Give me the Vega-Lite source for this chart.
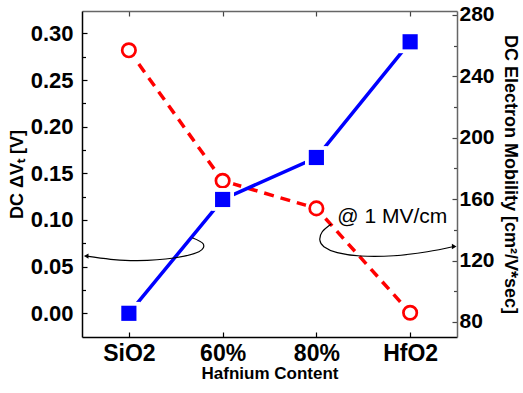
{
  "$schema": "https://vega.github.io/schema/vega-lite/v6.json",
  "width": 375,
  "height": 326,
  "autosize": "none",
  "padding": {"left": 82, "top": 11, "right": 66, "bottom": 56},
  "background": "white",
  "config": {
    "view": {"stroke": null},
    "axis": {"grid": false, "labelColor": "black", "titleColor": "black", "tickColor": "black"}
  },
  "datasets": {
    "vt": [
      {"content": "SiO2", "dvt": 0.0},
      {"content": "60%", "dvt": 0.122},
      {"content": "80%", "dvt": 0.167},
      {"content": "HfO2", "dvt": 0.291}
    ],
    "mobility": [
      {"content": "SiO2", "mobility": 257},
      {"content": "60%", "mobility": 172},
      {"content": "80%", "mobility": 154},
      {"content": "HfO2", "mobility": 86}
    ],
    "arrows": [
      {"arrow": "left", "ord": 1, "idx": 0.676, "val": 0.081},
      {"arrow": "left", "ord": 2, "idx": 0.794, "val": 0.0743},
      {"arrow": "left", "ord": 3, "idx": 0.747, "val": 0.066},
      {"arrow": "left", "ord": 4, "idx": 0.48, "val": 0.0593},
      {"arrow": "left", "ord": 5, "idx": 0.09, "val": 0.0564},
      {"arrow": "left", "ord": 6, "idx": -0.195, "val": 0.0579},
      {"arrow": "left", "ord": 7, "idx": -0.45, "val": 0.0612},
      {"arrow": "right", "ord": 1, "idx": 2.159, "val": 0.0957},
      {"arrow": "right", "ord": 2, "idx": 2.063, "val": 0.0874},
      {"arrow": "right", "ord": 3, "idx": 2.037, "val": 0.0785},
      {"arrow": "right", "ord": 4, "idx": 2.08, "val": 0.0714},
      {"arrow": "right", "ord": 5, "idx": 2.223, "val": 0.065},
      {"arrow": "right", "ord": 6, "idx": 2.471, "val": 0.0614},
      {"arrow": "right", "ord": 7, "idx": 2.827, "val": 0.0617},
      {"arrow": "right", "ord": 8, "idx": 3.183, "val": 0.066},
      {"arrow": "right", "ord": 9, "idx": 3.465, "val": 0.0716}
    ],
    "heads": [
      {"arrow": "left", "idx": -0.455, "val": 0.0613, "shape": "triangle-left"},
      {"arrow": "right", "idx": 3.47, "val": 0.0716, "shape": "triangle-right"}
    ],
    "notes": [
      {"idx": 2.223, "val": 0.0965, "note": "@ 1 MV/cm"}
    ]
  },
  "layer": [
    {
      "data": {"name": "mobility"},
      "encoding": {
        "x": {
          "field": "content", "type": "nominal", "sort": ["SiO2", "60%", "80%", "HfO2"],
          "scale": {"type": "point", "padding": 0.5},
          "axis": {
            "orient": "top", "labels": false, "title": null,
            "tickSize": -5, "tickWidth": 1.2, "tickColor": "#444",
            "domainColor": "#666", "domainWidth": 1.5
          }
        },
        "y": {
          "field": "mobility", "type": "quantitative",
          "scale": {"domain": [70.2, 282.6], "nice": false, "zero": false},
          "axis": {
            "orient": "right",
            "values": [80, 100, 120, 140, 160, 180, 200, 220, 240, 260, 280],
            "labelExpr": "datum.value % 40 == 0 ? datum.label : ''",
            "labelOverlap": false, "labelFlush": false,
            "labelFont": "Liberation Sans Narrow, Liberation Sans", "labelFontSize": 21, "labelFontWeight": "bold",
            "labelPadding": 7,
            "tickSize": {"condition": {"test": "datum.value % 40 == 0", "value": -5}, "value": -3.5},
            "tickWidth": 1.2, "tickColor": "#444",
            "domainColor": "#666", "domainWidth": 1.5,
            "title": "DC Electron Mobility [cm²/V*sec]",
            "titleFont": "Liberation Sans", "titleFontSize": 18, "titleFontWeight": "bold",
            "titlePadding": 6
          }
        }
      },
      "layer": [
        {"mark": {"type": "line", "color": "#ff0000", "strokeWidth": 3.5, "strokeDash": [10, 7]}},
        {"mark": {"type": "point", "shape": "circle", "filled": true, "color": "white", "opacity": 1, "size": 480}},
        {"mark": {"type": "point", "shape": "circle", "fill": "white", "fillOpacity": 1, "stroke": "#ff0000", "strokeWidth": 2.7, "opacity": 1, "size": 180}}
      ]
    },
    {
      "data": {"name": "vt"},
      "encoding": {
        "x": {
          "field": "content", "type": "nominal", "sort": ["SiO2", "60%", "80%", "HfO2"],
          "scale": {"type": "point", "padding": 0.5},
          "axis": {
            "orient": "bottom", "labelAngle": 0,
            "labelFont": "Liberation Sans", "labelFontSize": 23, "labelFontWeight": "bold",
            "labelPadding": 10,
            "tickSize": -5, "tickWidth": 1.2,
            "domainColor": "black", "domainWidth": 1.5,
            "title": "Hafnium Content",
            "titleFont": "Liberation Sans", "titleFontSize": 17, "titleFontWeight": "bold",
            "titlePadding": 0
          }
        },
        "y": {
          "field": "dvt", "type": "quantitative",
          "scale": {"domain": [-0.0254, 0.324], "nice": false, "zero": false},
          "axis": {
            "orient": "left",
            "values": [0, 0.025, 0.05, 0.075, 0.1, 0.125, 0.15, 0.175, 0.2, 0.225, 0.25, 0.275, 0.3],
            "labelExpr": "round(datum.value * 1000) % 50 == 0 ? format(datum.value, '.2f') : ''",
            "labelOverlap": false, "labelFlush": false,
            "labelFont": "Liberation Sans", "labelFontSize": 22, "labelFontWeight": "bold",
            "labelPadding": 14,
            "tickSize": {"condition": {"test": "round(datum.value * 1000) % 50 == 0", "value": -5}, "value": -3.5},
            "tickWidth": 1.2,
            "domainColor": "black", "domainWidth": 1.5,
            "title": "DC  ΔVₜ [V]",
            "titleFont": "Liberation Sans", "titleFontSize": 18, "titleFontWeight": "bold",
            "titlePadding": 4
          }
        }
      },
      "layer": [
        {"mark": {"type": "line", "color": "#0000ff", "strokeWidth": 3.5}},
        {"mark": {"type": "point", "shape": "square", "filled": true, "color": "white", "opacity": 1, "size": 520}},
        {"mark": {"type": "point", "shape": "square", "filled": true, "color": "#0000ff", "opacity": 1, "size": 230}}
      ]
    },
    {
      "data": {"name": "arrows"},
      "mark": {"type": "line", "color": "black", "strokeWidth": 1.2, "interpolate": "cardinal"},
      "encoding": {
        "x": {"field": "idx", "type": "quantitative", "scale": {"domain": [-0.5, 3.5], "nice": false, "zero": false}, "axis": null},
        "y": {"field": "val", "type": "quantitative", "scale": {"domain": [-0.0254, 0.324], "nice": false, "zero": false}, "axis": null},
        "detail": {"field": "arrow"},
        "order": {"field": "ord", "type": "quantitative"}
      }
    },
    {
      "data": {"name": "heads"},
      "mark": {"type": "point", "filled": true, "color": "black", "opacity": 1, "size": 28},
      "encoding": {
        "x": {"field": "idx", "type": "quantitative", "scale": {"domain": [-0.5, 3.5], "nice": false, "zero": false}, "axis": null},
        "y": {"field": "val", "type": "quantitative", "scale": {"domain": [-0.0254, 0.324], "nice": false, "zero": false}, "axis": null},
        "shape": {"field": "shape", "type": "nominal", "scale": null}
      }
    },
    {
      "data": {"name": "notes"},
      "mark": {"type": "text", "font": "Liberation Sans", "fontSize": 21, "align": "left", "baseline": "alphabetic", "color": "black"},
      "encoding": {
        "x": {"field": "idx", "type": "quantitative", "scale": {"domain": [-0.5, 3.5], "nice": false, "zero": false}, "axis": null},
        "y": {"field": "val", "type": "quantitative", "scale": {"domain": [-0.0254, 0.324], "nice": false, "zero": false}, "axis": null},
        "text": {"field": "note"}
      }
    }
  ],
  "resolve": {"scale": {"x": "independent", "y": "independent"}}
}
